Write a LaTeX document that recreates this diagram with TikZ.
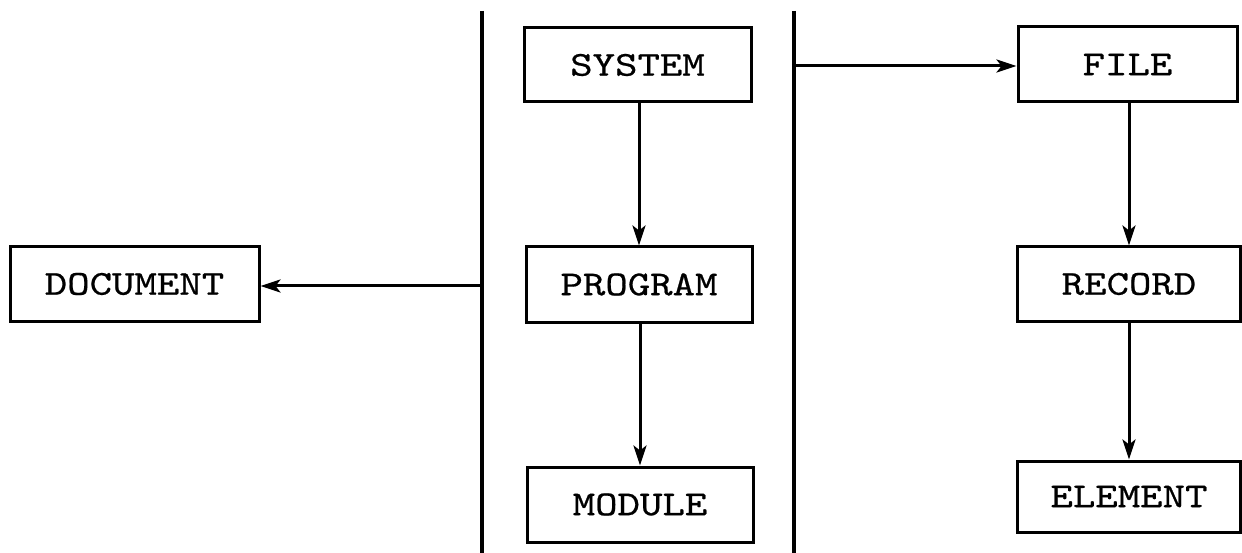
\documentclass[tikz,border=0pt]{standalone}
\usepackage{fontspec}
\newfontfamily\boxfont{lmmono10-regular.otf}[FakeStretch=1.22,FakeBold=0.6]
\usetikzlibrary{arrows.meta}
\begin{document}
\begin{tikzpicture}[x=1pt,y=-1pt,
  box/.style={draw, line width=3pt, inner sep=0pt, font=\boxfont\fontsize{35}{40}\selectfont, anchor=center},
  conn/.style={line width=3pt, -{Stealth[length=20pt,width=13pt,inset=5pt]}},
  bar/.style={line width=3.2pt}]
\useasboundingbox (0,0) rectangle (1242,553);
\node[box, minimum width=249pt, minimum height=74pt] (doc) at (134.5,284) {DOCUMENT};
\node[box, minimum width=227pt, minimum height=74pt] (sys) at (637.5,65) {SYSTEM};
\node[box, minimum width=226pt, minimum height=75pt] (prog) at (639,284.5) {PROGRAM};
\node[box, minimum width=226pt, minimum height=75pt] (mod) at (640,504.5) {MODULE};
\node[box, minimum width=219pt, minimum height=75pt] (file) at (1127.5,64.5) {FILE};
\node[box, minimum width=223pt, minimum height=74pt] (rec) at (1129,284) {RECORD};
\node[box, minimum width=223pt, minimum height=71pt] (elem) at (1129,496.5) {ELEMENT};
\coordinate (lt) at (482,11);
\coordinate (lb) at (482,553);
\coordinate (rt) at (794,11);
\coordinate (rb) at (794,553);
\draw[bar] (lt) -- (lb);
\draw[bar] (rt) -- (rb);
\coordinate (ldoc) at (482,286);
\coordinate (rfile) at (794,66);
\draw[conn] (ldoc) -- (doc.east |- ldoc);
\draw[conn] (rfile) -- (file.west |- rfile);
\draw[conn] (prog.north |- sys.south) -- (prog.north);
\draw[conn] (mod.north |- prog.south) -- (mod.north);
\draw[conn] (rec.north |- file.south) -- (rec.north);
\draw[conn] (elem.north |- rec.south) -- (elem.north);
\end{tikzpicture}
\end{document}
